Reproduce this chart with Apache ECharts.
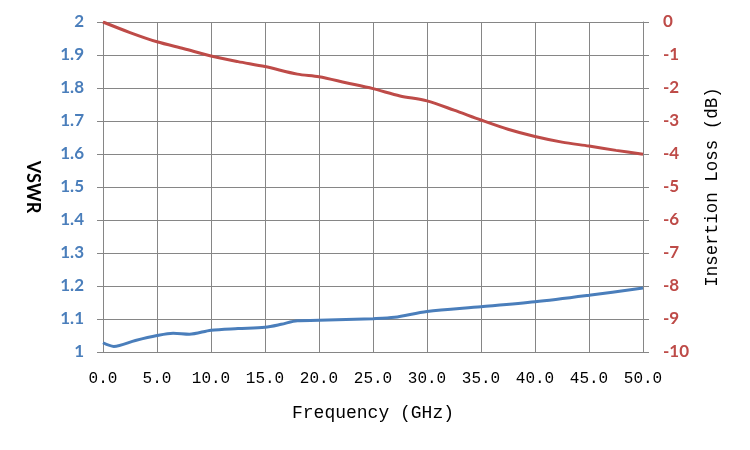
<!DOCTYPE html>
<html><head><meta charset="utf-8">
<script src="https://cdn.jsdelivr.net/npm/echarts@6/dist/echarts.min.js"></script>
<style>html,body{margin:0;padding:0;background:#fff}#c{width:750px;height:450px}</style>
</head><body><div id="c"></div>
<script>
const freqBlue = [0,1,3,5,6.5,8,10,12.5,15,16.5,18,20,25,27,30,35,40,45,50];
const vswr = [1.028,1.017,1.035,1.050,1.057,1.054,1.066,1.071,1.075,1.084,1.095,1.096,1.101,1.105,1.123,1.137,1.152,1.172,1.194];
const freqRed = [0,2.5,5,7.5,10,12.5,15,18,20,22.5,25,27.5,30,32.5,35,37.5,40,42.5,45,47.5,50];
const insertionLoss = [0,-0.32,-0.6,-0.81,-1.03,-1.2,-1.35,-1.58,-1.66,-1.84,-2.02,-2.24,-2.39,-2.67,-2.97,-3.25,-3.47,-3.64,-3.76,-3.89,-4.01];
const xTitle = 'Frequency (GHz)';
const yLeftTitle = 'VSWR';
const yRightTitle = 'Insertion Loss (dB)';

const gridColor = '#868686';
const blue = '#4A7EBB';
const red = '#BE4B48';
const chart = echarts.init(document.getElementById('c'));
chart.setOption({
  animation: false,
  grid: {left: 103, right: 107, top: 22, bottom: 98},
  xAxis: {
    type: 'value', min: 0, max: 50, interval: 5,
    name: xTitle, nameLocation: 'middle', nameGap: 52,
    nameTextStyle: {fontFamily: 'Liberation Mono', fontSize: 18, color: '#000'},
    axisLine: {lineStyle: {color: gridColor}},
    axisTick: {show: true, length: 6, lineStyle: {color: gridColor}},
    axisLabel: {formatter: v => v.toFixed(1), fontFamily: 'Liberation Mono', fontSize: 16, color: '#000', margin: 19},
    splitLine: {show: true, lineStyle: {color: gridColor, width: 1}}
  },
  yAxis: [{
    type: 'value', min: 1, max: 2, interval: 0.1, position: 'left',
    name: yLeftTitle, nameLocation: 'middle', nameGap: 61, nameRotate: -90,
    nameTextStyle: {fontFamily: 'Lato', fontWeight: 'bold', fontSize: 18, color: '#000'},
    axisLine: {show: true, lineStyle: {color: gridColor}},
    axisTick: {show: true, length: 6, lineStyle: {color: gridColor}},
    axisLabel: {formatter: v => (Math.round(v*10)/10).toString(), fontFamily: 'Lato', fontWeight: 'bold', fontSize: 17, color: blue, margin: 19},
    splitLine: {show: true, lineStyle: {color: gridColor, width: 1}}
  }, {
    type: 'value', min: -10, max: 0, interval: 1, position: 'right',
    name: yRightTitle, nameLocation: 'middle', nameGap: 60, nameRotate: 90,
    nameTextStyle: {fontFamily: 'Liberation Mono', fontSize: 17.5, color: '#000'},
    axisLine: {show: true, lineStyle: {color: gridColor}},
    axisTick: {show: true, length: 6, lineStyle: {color: gridColor}},
    axisLabel: {fontFamily: 'Lato', fontWeight: 'bold', fontSize: 17, color: red, margin: 20},
    splitLine: {show: false}
  }],
  series: [{
    type: 'line', yAxisIndex: 0, smooth: 0.3, showSymbol: false,
    lineStyle: {color: blue, width: 3},
    data: freqBlue.map((f, i) => [f, vswr[i]])
  }, {
    type: 'line', yAxisIndex: 1, smooth: 0.3, showSymbol: false,
    lineStyle: {color: red, width: 3},
    data: freqRed.map((f, i) => [f, insertionLoss[i]])
  }]
});
</script></body></html>
